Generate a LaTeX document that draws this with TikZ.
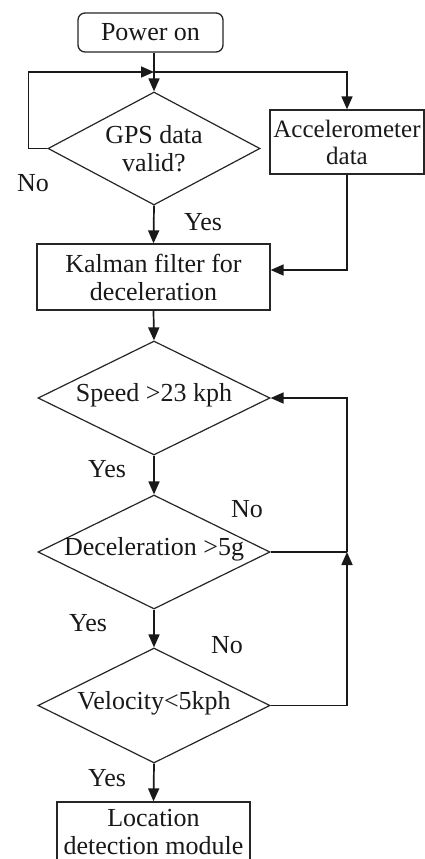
\documentclass[tikz,border=0pt]{standalone}
\usepackage{fontspec}
\setmainfont{Liberation Serif}
\usetikzlibrary{shapes.geometric,arrows.meta}
\begin{document}
\begin{tikzpicture}[x=1pt,y=-1pt,
  every node/.style={font=\fontsize{26}{28}\selectfont, text=black!90},
  box/.style={draw=black!85, line width=1.3pt, inner sep=0pt, align=center},
  dia/.style={draw=black!85, diamond, line width=1.2pt, inner sep=0pt},
  conn/.style={draw=black!90, line width=1.7pt, -{Triangle[length=13pt,width=11pt]}},
  plain/.style={draw=black!90, line width=1.7pt},
  lbl/.style={inner sep=0pt, align=center}]
\useasboundingbox[fill=white] (0,0) rectangle (425,859);
% nodes
\node[box, rounded corners=7pt, minimum width=145pt, minimum height=39pt] (power) at (150.5,32.5) {Power on};
\node[dia, minimum width=212pt, minimum height=113pt, label={[lbl]center:GPS data\\valid?}] (gps) at (154,148.5) {};
\node[box, minimum width=154pt, minimum height=64pt, font=\fontsize{25}{27}\selectfont] (acc) at (347,142) {Accelerometer\\data};
\node[box, minimum width=233pt, minimum height=66pt] (kal) at (153.5,277) {Kalman filter for\\deceleration};
\node[dia, minimum width=232pt, minimum height=114pt, label={[lbl,yshift=3pt]center:Speed >23 kph}] (speed) at (154,398) {};
\node[dia, minimum width=232pt, minimum height=114pt, label={[lbl,yshift=3pt]center:Deceleration >5g}] (decel) at (154,552) {};
\node[dia, minimum width=232pt, minimum height=115pt, label={[lbl,yshift=2pt]center:Velocity<5kph}] (vel) at (154,705.5) {};
\node[box, minimum width=193pt, minimum height=66pt, label={[lbl,yshift=3pt]center:Location\\detection module}] (loc) at (153.5,835) {};
% labels
\node[lbl] (no1) at (33,183) {No};
\node[lbl] (yes1) at (203,222) {Yes};
\node[lbl] (yes2) at (107,469) {Yes};
\node[lbl] (no2) at (247,509) {No};
\node[lbl] (yes3) at (88,623) {Yes};
\node[lbl] (no3) at (227,645) {No};
\node[lbl] (yes4) at (107,778) {Yes};
% junctions
\coordinate (j1) at (154,72);
\coordinate (r1) at (347,552);
% connectors
\draw[plain] (power.south -| j1) -- (j1);
\draw[conn] (j1) -- (gps.north);
\draw[conn] (j1) -| (acc.north);
\draw[conn] (gps.west) -- ++(-19,0) |- (j1);
\draw[conn] (gps.south) -- (kal.north);
\draw[conn] (acc.south) |- ([yshift=7pt]kal.east);
\draw[conn] (kal.south) -- (speed.north);
\draw[conn] (speed.south) -- (decel.north);
\draw[conn] (decel.south) -- (vel.north);
\draw[conn] (vel.south) -- (loc.north);
\draw[plain] (decel.east) -- (r1);
\draw[conn] (vel.east) -| (r1);
\draw[conn] (r1) |- (speed.east);
\end{tikzpicture}
\end{document}
